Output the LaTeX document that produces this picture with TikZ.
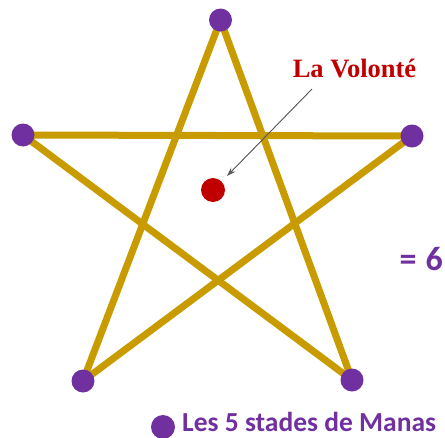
\documentclass[tikz,border=0pt]{standalone}
\usepackage{fontspec}
\setmainfont{Liberation Serif}
\newfontfamily\calib[BoldFont={Carlito Bold}]{Carlito}
\usetikzlibrary{arrows.meta}
\definecolor{gold}{RGB}{200,155,0}
\definecolor{purp}{RGB}{112,48,160}
\definecolor{redd}{RGB}{192,0,0}
\begin{document}
\begin{tikzpicture}[x=1pt,y=-1pt,
  vdot/.style={circle,fill=purp,minimum size=23pt,inner sep=0pt},
  edge/.style={draw=gold,line width=7pt},
  ]
\useasboundingbox (0,0) rectangle (445,437);
\coordinate (t) at (220.5,20);
\coordinate (l) at (23,135);
\coordinate (r) at (412,136);
\coordinate (bl) at (83,381);
\coordinate (br) at (352,380);
\draw[edge] (t) -- (bl);
\draw[edge] (t) -- (br);
\draw[edge] (l) -- (r);
\draw[edge] (l) -- (br);
\draw[edge] (r) -- (bl);
\node[vdot] (nt) at (t) {};
\node[vdot] (nl) at (l) {};
\node[vdot] (nr) at (r) {};
\node[vdot] (nbl) at (bl) {};
\node[vdot] (nbr) at (br) {};
\node[circle,fill=redd,minimum size=24pt,inner sep=0pt] (will) at (213,190) {};
\node[anchor=base,text=redd,font=\bfseries\fontsize{26.5}{30}\selectfont,inner sep=0pt] (lab) at (354.5,77) {La Volonté};
\coordinate (as) at (312,89);
\draw[-{Stealth[length=9pt,width=6pt]},draw=black!65,fill=black,line width=0.9pt] (as) -- (227,176);
\node[anchor=base east,text=purp,font=\calib\bfseries\fontsize{34}{38}\selectfont,inner sep=0pt] (eq) at (443,270) {=\hspace{9pt}6};
\node[circle,fill=purp,minimum size=24pt,inner sep=0pt] (leg) at (163,427) {};
\node[anchor=base west,text=purp,font=\calib\bfseries\fontsize{27.5}{32}\selectfont,inner sep=0pt] (legt) at (182,431) {Les 5 stades de Manas};
\end{tikzpicture}
\end{document}
